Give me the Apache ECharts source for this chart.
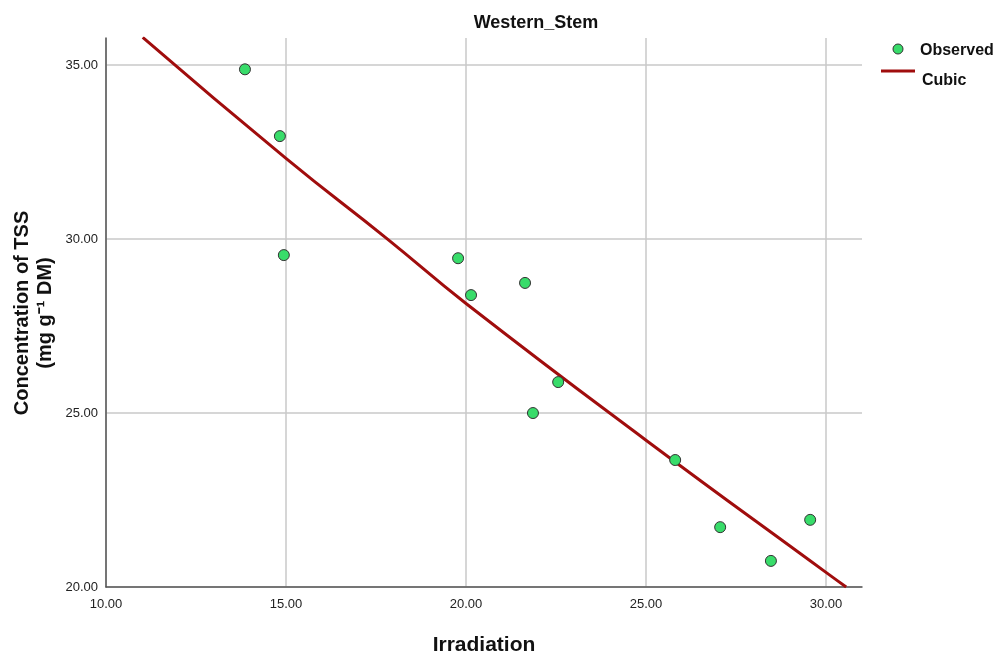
<!DOCTYPE html>
<html>
<head>
<meta charset="utf-8">
<script src="https://cdn.jsdelivr.net/npm/echarts@6/dist/echarts.min.js"></script>
<style>html,body{margin:0;padding:0;background:#fff;overflow:hidden}#c{width:1002px;height:652px}</style>
</head>
<body>
<div id="c"></div>
<script>
// Observed points (Irradiation, Concentration of TSS)
const obsX = [13.86, 14.83, 14.94, 19.78, 20.14, 21.64, 22.56, 21.86, 25.81, 27.06, 28.47, 29.56];
const obsY = [34.88, 32.96, 29.54, 29.45, 28.39, 28.74, 25.89, 25.00, 23.65, 21.72, 20.75, 21.93];
// Cubic fit curve
const fitX = [11.02, 15.00, 17.82, 20.00, 25.00, 30.00, 30.56];
const fitY = [35.80, 32.32, 30.00, 28.15, 24.22, 20.42, 20.00];
const xTicks = [10, 15, 20, 25, 30];
const yTicks = [20, 25, 30, 35];

const chart = echarts.init(document.getElementById('c'), null, {renderer: 'canvas', width: 1002, height: 652});
const font = 'Liberation Sans, Arial, sans-serif';
chart.setOption({
  animation: false,
  backgroundColor: '#fff',
  title: {
    text: 'Western_Stem', left: 531, top: 9, textAlign: 'center',
    textStyle: {fontFamily: font, fontSize: 18, fontWeight: 'bold', color: '#111'}
  },
  grid: {left: 106, right: 140, top: 38, bottom: 65, containLabel: false, outerBoundsMode: 'none'},
  xAxis: {
    type: 'value', min: 10, max: 31.0, interval: 5,
    name: 'Irradiation', nameLocation: 'middle', nameGap: 48,
    nameTextStyle: {fontFamily: font, fontSize: 21, fontWeight: 'bold', color: '#111'},
    axisLine: {show: true, lineStyle: {color: '#555', width: 1.5}},
    axisTick: {show: false},
    axisLabel: {fontFamily: font, fontSize: 13, color: '#222', margin: 11,
      showMaxLabel: false,
      formatter: v => xTicks.includes(v) ? v.toFixed(2) : ''},
    splitLine: {show: true, showMaxLine: false, lineStyle: {color: '#c8c8c8', width: 1.5}}
  },
  yAxis: {
    type: 'value', min: 20, max: 35.78, interval: 5,
    axisLine: {show: true, lineStyle: {color: '#555', width: 1.5}},
    axisTick: {show: false},
    axisLabel: {fontFamily: font, fontSize: 13, color: '#222', margin: 8,
      showMaxLabel: false,
      formatter: v => yTicks.includes(v) ? v.toFixed(2) : ''},
    splitLine: {show: true, showMaxLine: false, lineStyle: {color: '#c8c8c8', width: 1.5}}
  },
  series: [
    {
      name: 'Cubic', type: 'line', showSymbol: false, smooth: true,
      data: fitX.map((x, i) => [x, fitY[i]]),
      lineStyle: {color: '#a00d0d', width: 3}, z: 2
    },
    {
      name: 'Observed', type: 'scatter', symbol: 'circle', symbolSize: 11,
      data: obsX.map((x, i) => [x, obsY[i]]),
      itemStyle: {color: '#38dc6a', borderColor: '#333', borderWidth: 1, opacity: 1}, z: 3
    }
  ],
  graphic: [
    {type: 'text', x: 34, y: 313, rotation: Math.PI / 2,
      style: {text: 'Concentration of TSS\n(mg g⁻¹ DM)', font: 'bold 20px ' + font,
        fill: '#111', textAlign: 'center', textVerticalAlign: 'middle', lineHeight: 23}},
    {type: 'circle', shape: {cx: 898, cy: 49, r: 5},
      style: {fill: '#38dc6a', stroke: '#333', lineWidth: 1}},
    {type: 'text', x: 920, y: 51, style: {text: 'Observed', font: 'bold 16px ' + font,
      fill: '#111', textVerticalAlign: 'middle'}},
    {type: 'line', shape: {x1: 881, y1: 71, x2: 915, y2: 71},
      style: {stroke: '#a00d0d', lineWidth: 3}},
    {type: 'text', x: 922, y: 81, style: {text: 'Cubic', font: 'bold 16px ' + font,
      fill: '#111', textVerticalAlign: 'middle'}}
  ]
});
</script>
</body>
</html>
